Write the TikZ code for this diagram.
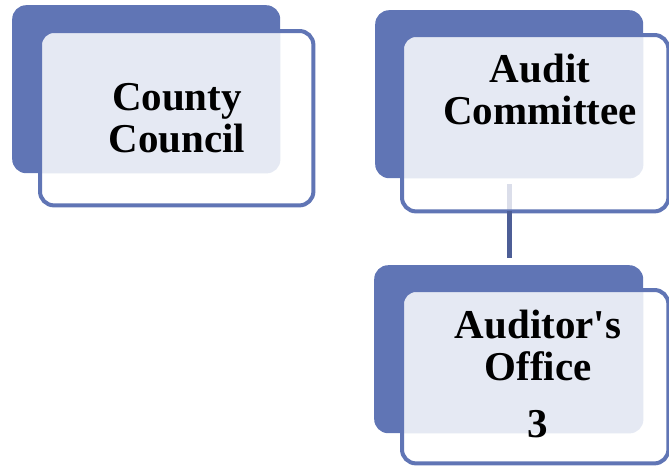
\documentclass[tikz,border=0pt]{standalone}
\usepackage{fontspec}
\setmainfont{Liberation Serif}
\usetikzlibrary{calc}
\definecolor{boxblue}{RGB}{96,117,181}
\definecolor{linkblue}{RGB}{77,94,150}
\definecolor{dotfill}{RGB}{229,233,243}

\begin{document}
\begin{tikzpicture}[x=1pt,y=-1pt,
  backbox/.style={rectangle, rounded corners=14pt, fill=boxblue, inner sep=0pt, anchor=north west},
  frontbox/.style={rectangle, rounded corners=14pt, fill=white, inner sep=0pt, anchor=north west},
  frame/.style={draw=boxblue, line width=4pt, rounded corners=14pt},
  dots/.style={fill=dotfill, rounded corners=14pt},
  link/.style={draw=linkblue, line width=5pt},
  unitname/.style={font=\fontsize{41}{42}\selectfont\bfseries, align=center, anchor=base, inner sep=0pt}]

\useasboundingbox (0,0) rectangle (669,466);

% County Council
\node[backbox, minimum width=268pt, minimum height=168pt] (ccb) at (12,5) {};
\node[frontbox, minimum width=273pt, minimum height=174pt] (cc) at (40,31) {};
\begin{scope}
  \clip[rounded corners=14pt] (ccb.north west) rectangle (ccb.south east);
  \path[dots] (cc.north west) rectangle (cc.south east);
\end{scope}
\path[frame] (cc.north west) rectangle (cc.south east);
\node[unitname] (cct) at (177,152) {County\\Council};

% Audit Committee
\node[backbox, minimum width=268pt, minimum height=168pt] (acb) at (375,10) {};
\node[frontbox, minimum width=266pt, minimum height=176pt] (ac) at (402,35) {};
\begin{scope}
  \clip[rounded corners=14pt] (acb.north west) rectangle (acb.south east);
  \path[dots] (ac.north west) rectangle (ac.south east);
\end{scope}
\coordinate (acfoot) at ([xshift=107pt]ac.south west);
\draw[link, opacity=0.2] (acfoot) -- ++(0,-27);
\path[frame] (ac.north west) rectangle (ac.south east);
\node[unitname] (act) at (540,124) {Audit\\Committee};

% Auditor's Office
\node[backbox, minimum width=269pt, minimum height=168pt] (aob) at (374,265) {};
\node[frontbox, minimum width=266pt, minimum height=173pt] (ao) at (402,290) {};
\begin{scope}
  \clip[rounded corners=14pt] (aob.north west) rectangle (aob.south east);
  \path[dots] (ao.north west) rectangle (ao.south east);
\end{scope}
\path[frame] (ao.north west) rectangle (ao.south east);
\node[unitname] (aot) at (538,437) {Auditor\textquotesingle s\\Office\\[15pt]3};

% connector
\coordinate (aotop) at ([yshift=7pt]aob.north);
\draw[link] (acfoot) -- (acfoot |- aotop);

\end{tikzpicture}
\end{document}
